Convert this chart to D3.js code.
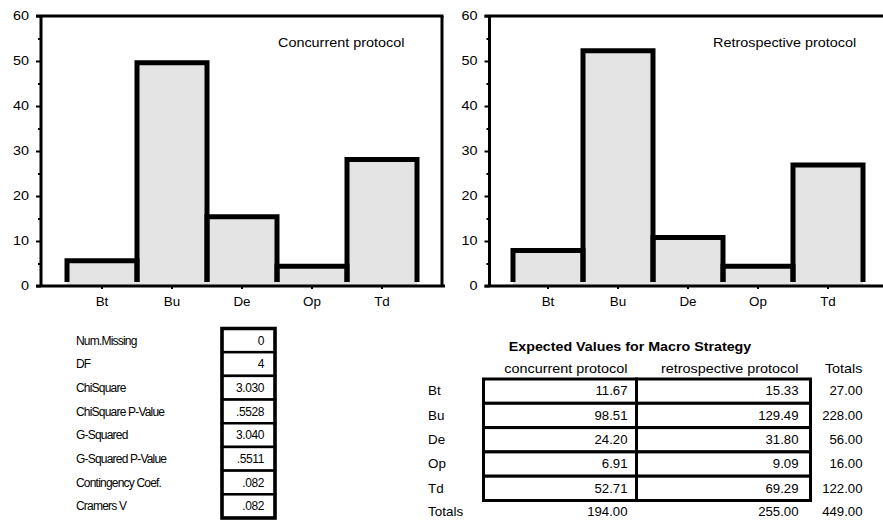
<!DOCTYPE html>
<html>
<head>
<meta charset="utf-8">
<script src="https://cdn.jsdelivr.net/npm/d3@7"></script>
<style>
  body { margin: 0; background: #fff; }
  svg { display: block; }
  text { font-family: "Liberation Sans", Arial, sans-serif; fill: #000; }
</style>
</head>
<body>
<svg id="chart" width="883" height="520"></svg>
<script>
// Strategy categories shared by both histograms and the expected-values table
const categories = ["Bt", "Bu", "De", "Op", "Td"];

// Percent of strategies per protocol
const concurrentPct = [5.6, 49.6, 15.4, 4.4, 28.1];
const retrospectivePct = [7.9, 52.3, 10.8, 4.4, 26.9];

const yTicks = [0, 10, 20, 30, 40, 50, 60];
const yMinorTicks = [5, 15, 25, 35, 45, 55];

// Contingency statistics
const statLabels = ["Num.Missing", "DF", "ChiSquare", "ChiSquare P-Value", "G-Squared",
  "G-Squared P-Value", "Contingency Coef.", "Cramers V"];
const statValues = ["0", "4", "3.030", ".5528", "3.040", ".5511", ".082", ".082"];

// Expected values for macro strategy
const tableTitle = "Expected Values for Macro Strategy";
const columnHeaders = ["concurrent protocol", "retrospective protocol", "Totals"];
const expectedConcurrent = [11.67, 98.51, 24.20, 6.91, 52.71];
const expectedRetrospective = [15.33, 129.49, 31.80, 9.09, 69.29];
const rowTotals = [27, 228, 56, 16, 122];
const columnTotals = [194, 255, 449];

const svg = d3.select("#chart");
const FONT = '"Liberation Sans", Arial, sans-serif';

// Text that is widened horizontally around its anchor point
function wideText(parent, x, y, str, opts = {}) {
  return parent.append("text")
    .attr("transform", `translate(${x},${y}) scale(${opts.sx || 1},1)`)
    .attr("text-anchor", opts.anchor || "start")
    .style("font-size", (opts.size || 12) + "px")
    .style("font-weight", opts.weight || "normal")
    .style("letter-spacing", opts.spacing || null)
    .text(str);
}

function drawPanel(cfg) {
  const { left, frameRight, axisRight, top, bottom, barStart, barEnd, values, title, titleX } = cfg;
  const g = svg.append("g");
  const y = d3.scaleLinear().domain([0, 60]).range([bottom, top]);
  const x = d3.scaleBand().domain(categories).range([barStart, barEnd]).padding(0);

  // bar fills first, then the heavy outlines so shared edges stay intact
  g.selectAll("rect.fill").data(values).join("rect")
    .attr("class", "fill")
    .attr("x", (d, i) => x(categories[i]))
    .attr("y", d => y(d))
    .attr("width", x.bandwidth())
    .attr("height", d => bottom - y(d))
    .attr("fill", "#e4e4e4");

  g.selectAll("path.bar").data(values).join("path")
    .attr("class", "bar")
    .attr("d", (d, i) => {
      const x0 = x(categories[i]), x1 = x0 + x.bandwidth();
      return `M${x0},${bottom - 4}V${y(d)}H${x1}V${bottom - 4}`;
    })
    .attr("fill", "none")
    .attr("stroke", "#000")
    .attr("stroke-width", 5)
    .attr("stroke-linejoin", "miter");

  // y axis: major ticks with labels, minor ticks between
  const yAxis = g.append("g")
    .attr("transform", `translate(${left},0)`)
    .call(d3.axisLeft(y).tickValues(yTicks).tickSize(5).tickPadding(4))
    .attr("font-family", FONT)
    .attr("font-size", 12);
  yAxis.select(".domain").remove();
  yAxis.selectAll("line").attr("stroke-width", 2);
  yAxis.selectAll("text").attr("x", -12 / 1.2).attr("transform", "scale(1.2,1)");

  const yMinor = g.append("g")
    .attr("transform", `translate(${left},0)`)
    .call(d3.axisLeft(y).tickValues(yMinorTicks).tickSize(3).tickFormat(() => ""));
  yMinor.select(".domain").remove();
  yMinor.selectAll("line").attr("stroke-width", 2);

  // x axis: category ticks and labels
  const xAxis = g.append("g")
    .attr("transform", `translate(0,${bottom})`)
    .call(d3.axisBottom(x).tickSize(3).tickPadding(8))
    .attr("font-family", FONT)
    .attr("font-size", 12);
  xAxis.select(".domain").remove();
  xAxis.selectAll("line").attr("stroke-width", 2);
  xAxis.selectAll("text").attr("transform", "scale(1.12,1)");

  // frame
  const frame = g.append("g").attr("stroke", "#000").attr("stroke-width", 3);
  frame.append("line").attr("x1", left - 5).attr("x2", frameRight + 1.5).attr("y1", top).attr("y2", top);
  frame.append("line").attr("x1", left).attr("x2", left).attr("y1", top).attr("y2", bottom);
  frame.append("line").attr("x1", left - 5).attr("x2", axisRight).attr("y1", bottom).attr("y2", bottom);
  if (cfg.border) {
    frame.append("line").attr("x1", frameRight).attr("x2", frameRight).attr("y1", top).attr("y2", bottom);
  }

  wideText(g, titleX, 47, title, { sx: 1.2 });
}

drawPanel({
  left: 41, frameRight: 442, axisRight: 445, border: true, top: 16, bottom: 286,
  barStart: 67, barEnd: 417, values: concurrentPct,
  title: "Concurrent protocol", titleX: 278
});

drawPanel({
  left: 489.5, frameRight: 890, axisRight: 890, border: false, top: 16, bottom: 286,
  barStart: 513, barEnd: 863, values: retrospectivePct,
  title: "Retrospective protocol", titleX: 713
});

// statistics box
const stats = svg.append("g");
const statY = d3.scaleBand().domain(statLabels).range([328.5, 518]);
stats.selectAll("rect.cell").data(statLabels).join("rect")
  .attr("class", "cell")
  .attr("x", 222).attr("y", d => statY(d))
  .attr("width", 53).attr("height", statY.bandwidth())
  .attr("fill", "#fff").attr("stroke", "#000").attr("stroke-width", 2.5);
stats.append("rect")
  .attr("x", 222).attr("y", 328.5).attr("width", 53).attr("height", 518 - 328.5)
  .attr("fill", "none").attr("stroke", "#000").attr("stroke-width", 3.5);
statLabels.forEach((lab, i) => {
  const cy = statY(lab) + statY.bandwidth() / 2 + 4.3;
  wideText(stats, 76, cy, lab, { spacing: "-0.8px" });
  wideText(stats, 264, cy, statValues[i], { anchor: "end", spacing: "-0.4px" });
});

// expected values table
const table = svg.append("g");
const fmt = d3.format(".2f");
const rowY = d3.scaleBand().domain(categories).range([379, 500.5]);
const colEdges = [483.5, 636.5, 810.5];
const colRight = [627.5, 798.5, 862.5];

wideText(table, 630, 351, tableTitle, { anchor: "middle", weight: "bold", sx: 1.19 });
columnHeaders.forEach((h, j) => wideText(table, colRight[j], 372.5, h, { anchor: "end", sx: 1.2 }));

const columns = [expectedConcurrent, expectedRetrospective];
columns.forEach((col, j) => {
  table.selectAll(`rect.c${j}`).data(col).join("rect")
    .attr("class", `c${j}`)
    .attr("x", colEdges[j]).attr("y", (d, i) => rowY(categories[i]))
    .attr("width", colEdges[j + 1] - colEdges[j]).attr("height", rowY.bandwidth())
    .attr("fill", "#fff").attr("stroke", "#000").attr("stroke-width", 3);
});
categories.forEach((c, i) => {
  const cy = rowY(c) + rowY.bandwidth() / 2 + 4.3;
  wideText(table, 428, cy, c, { sx: 1.12 });
  wideText(table, colRight[0], cy, fmt(expectedConcurrent[i]), { anchor: "end", sx: 1.1 });
  wideText(table, colRight[1], cy, fmt(expectedRetrospective[i]), { anchor: "end", sx: 1.1 });
  wideText(table, colRight[2], cy, fmt(rowTotals[i]), { anchor: "end", sx: 1.1 });
});
const totalsY = 511.7 + 4.3;
wideText(table, 428, totalsY, "Totals", { sx: 1.12 });
columnTotals.forEach((t, j) => wideText(table, colRight[j], totalsY, fmt(t), { anchor: "end", sx: 1.1 }));
</script>
</body>
</html>
